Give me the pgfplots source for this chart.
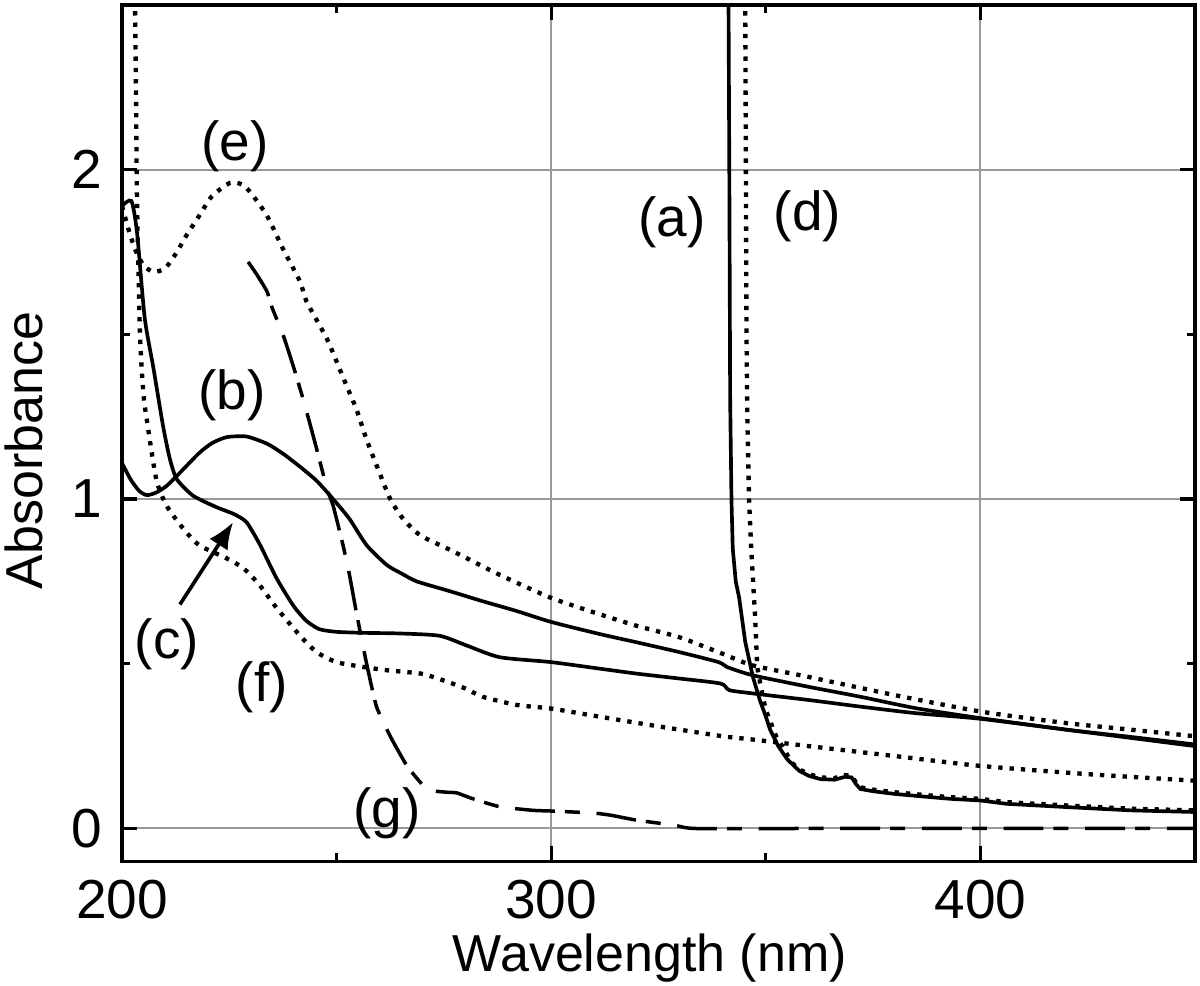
\documentclass[border=0pt]{standalone}
\usepackage{pgfplots}
\pgfplotsset{compat=1.18}
\usepackage{fontspec}
\setmainfont{Liberation Sans}
\usetikzlibrary{arrows.meta}
\begin{document}
\begin{tikzpicture}
\begin{axis}[
 name=ax,
 width=322pt, height=257pt, scale only axis,
 xmin=200, xmax=450, ymin=-0.1, ymax=2.5,
 xtick={200,300,400}, minor xtick={250,350},
 ytick={0,1,2}, minor ytick={0.5,1.5},
 tick align=inside, major tick length=4.5pt, minor tick length=2.5pt,
 grid=major, major grid style={black!40, line width=0.6pt},
 axis line style={line width=1pt},
 every tick/.style={black, line width=1pt},
 /pgf/number format/assume math mode=true,
 ticklabel style={font=\fontsize{16.5}{18}\selectfont},
 xticklabel style={yshift=-2pt},
 yticklabel style={xshift=-2.5pt},
 xlabel={Wavelength (nm)}, ylabel={Absorbance},
 label style={font=\fontsize{15.6}{18}\selectfont},
 xlabel style={at={(axis description cs:0.492,-0.1284)}, anchor=base},
 ylabel style={at={(axis description cs:-0.0736,0.48)}, anchor=base},
 solidc/.style={black, line width=1.1pt},
 dotc/.style={black, line width=1.3pt, dash pattern=on 1.3pt off 2.1pt},
 dashc/.style={black, line width=1.05pt, dash pattern=on 12pt off 3pt on 4.5pt off 5pt},
]
% (a) solid
\addplot[solidc] coordinates {
(341.3,2.55) (341.5,2.0) (341.7,1.3) (342.0,1.0) (342.3,0.85) (343.0,0.75)
(343.8,0.70) (345.2,0.567) (347.0,0.46) (348.6,0.39) (350.0,0.34) (351.0,0.30)
(352.9,0.25) (355.0,0.21) (357.8,0.175) (360.0,0.16) (362.7,0.15) (366.0,0.148)
(368.5,0.157) (370.0,0.155) (371.0,0.135) (372.0,0.12) (375,0.113) (380,0.105)
(386.7,0.097) (393,0.09) (400,0.085) (406,0.075) (420,0.065) (435,0.055) (450,0.05)};
% (d) dotted
\addplot[dotc] coordinates {
(345.2,2.55) (345.5,1.5) (345.7,1.25) (346.1,1.0) (346.6,0.85) (347.5,0.645)
(348.0,0.49) (349.0,0.42) (350.0,0.36) (352.4,0.28) (354.3,0.24) (356,0.20)
(358,0.178) (360.0,0.165) (362.7,0.155) (366.0,0.153) (368.5,0.162) (370.0,0.16)
(371.0,0.14) (372.0,0.125) (375,0.118) (380,0.11) (386.7,0.102) (393,0.095)
(400,0.09) (406,0.08) (420,0.07) (435,0.06) (450,0.055)};
% (b) solid
\addplot[solidc, smooth, tension=0.4] coordinates {
(200,1.11) (202,1.06) (204,1.025) (205.8,1.012) (208,1.02) (210.4,1.04) (213.5,1.08)
(218,1.14) (221,1.17) (224.4,1.188) (229,1.19) (233.8,1.168)
(237.5,1.138) (241.5,1.098) (245.4,1.055) (249.2,1.0) (253,0.94) (257,0.86)
(261.7,0.80) (265,0.775) (268.7,0.75) (276.5,0.72) (284,0.69) (292,0.66)
(300,0.627) (311.4,0.59) (320,0.565) (330,0.535) (339,0.505) (341,0.49)
(347,0.465) (360,0.43) (372,0.40) (385,0.365) (400,0.335) (420,0.30) (435,0.278) (450,0.255)};
% (c) solid
\addplot[solidc, smooth, tension=0.4] coordinates {
(200,1.89) (202.2,1.905) (203.5,1.81) (205.3,1.55) (207.3,1.40) (209.6,1.22)
(211.2,1.12) (212.8,1.06) (216.6,1.01) (222.1,0.975) (226,0.955) (229,0.93)
(232.2,0.86) (236,0.76) (240,0.675) (243,0.63) (246,0.605) (250,0.597)
(256,0.594) (264.8,0.592) (274,0.585) (280.4,0.555) (288,0.52) (300,0.505)
(311.4,0.485) (320,0.47) (330,0.455) (339.5,0.44) (341.5,0.42) (347,0.41)
(360,0.39) (372,0.37) (385,0.35) (400,0.333) (420,0.30) (435,0.275) (450,0.25)};
% (e) dotted
\addplot[dotc, smooth, tension=0.4] coordinates {
(200,1.89) (201.5,1.82) (203,1.76) (205,1.71) (207.3,1.69) (210,1.70)
(212.8,1.75) (215,1.80) (218,1.86) (221,1.92) (225.2,1.96) (228,1.955)
(230,1.93) (233.8,1.86) (237.5,1.76) (241.5,1.66) (243,1.60) (247.8,1.485)
(251.5,1.37) (254.7,1.27) (257,1.18) (260,1.08) (262.5,1.0) (265.5,0.94)
(269.5,0.89) (275.8,0.85) (280.4,0.82) (288,0.77) (300,0.70) (311.4,0.65)
(320,0.615) (330,0.58) (340,0.53) (347,0.495) (360,0.46) (380,0.405)
(400,0.355) (420,0.32) (435,0.30) (450,0.28)};
% (f) dotted
\addplot[dotc, smooth, tension=0.4] coordinates {
(203,2.55) (203.3,2.2) (203.5,1.91) (204.2,1.5) (205,1.32) (205.8,1.24)
(208,1.06) (210.4,0.98) (214.3,0.91) (218,0.86) (224.4,0.82) (228.3,0.79)
(232,0.74) (236,0.67) (241.5,0.585) (245.4,0.535) (250,0.505) (256.4,0.49)
(262,0.48) (269.7,0.47) (274.8,0.45) (280,0.425) (284,0.40) (292,0.375)
(300,0.364) (311,0.34) (325,0.31) (340,0.28) (347,0.27) (360,0.25)
(380,0.22) (400,0.19) (425,0.165) (450,0.145)};
% (g) dashed
\addplot[dashc, smooth, tension=0.3] coordinates {
(229.4,1.72) (231.5,1.68) (233.8,1.63) (235,1.58) (237.5,1.50) (240,1.40)
(242.5,1.29) (245,1.17) (247.8,1.03) (249.2,0.98) (251.5,0.86) (253,0.77)
(254.7,0.65) (257,0.50) (259.3,0.37) (262.5,0.28) (266.4,0.19) (270.2,0.13)
(272,0.115) (275.8,0.11) (278,0.108) (281.8,0.09) (288,0.066) (295.8,0.055)
(300,0.053) (309.8,0.047) (314,0.04) (320,0.025) (328.7,0.01) (333.5,0.0)
(360,0) (400,0) (450,0)};
% labels
\node[font=\fontsize{16.5}{18}\selectfont] at (axis cs:226.3,2.07) {(e)};
\node[font=\fontsize{16.5}{18}\selectfont] at (axis cs:225.6,1.315) {(b)};
\node[font=\fontsize{16.5}{18}\selectfont] at (axis cs:328.2,1.84) {(a)};
\node[font=\fontsize{16.5}{18}\selectfont] at (axis cs:359.7,1.86) {(d)};
\node[font=\fontsize{16.5}{18}\selectfont] at (axis cs:210.5,0.56) {(c)};
\node[font=\fontsize{16.5}{18}\selectfont] at (axis cs:232.6,0.43) {(f)};
\node[font=\fontsize{16.5}{18}\selectfont] at (axis cs:261.8,0.045) {(g)};
\draw[black, line width=1.1pt, -{Latex[length=8pt, width=6.5pt]}] (axis cs:213.5,0.68) -- (axis cs:225.9,0.93);
\end{axis}
\pgfresetboundingbox
\path ([shift={(-36.6pt,-37.2pt)}]ax.south west) rectangle ([shift={(1.5pt,1.5pt)}]ax.north east);
\end{tikzpicture}
\end{document}
